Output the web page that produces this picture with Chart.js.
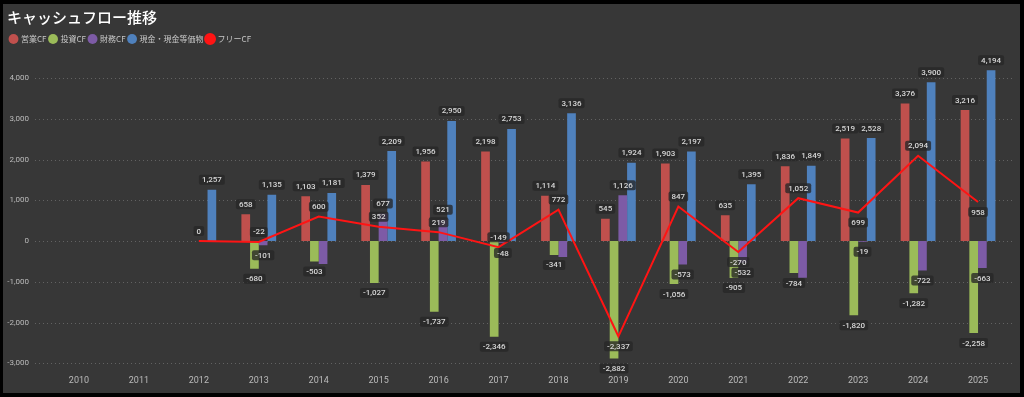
<!DOCTYPE html>
<html>
<head>
<meta charset="utf-8">
<script src="https://cdn.jsdelivr.net/npm/chart.js@4.4.0/dist/chart.umd.min.js"></script>
<style>
  html, body { margin: 0; padding: 0; background: #000; }
  #wrap { width: 1024px; height: 397px; }
</style>
</head>
<body>
<div id="wrap"><canvas id="cf-chart" width="1024" height="397"></canvas></div>
<script>
const years = ['2010', '2011', '2012', '2013', '2014', '2015', '2016', '2017', '2018', '2019', '2020', '2021', '2022', '2023', '2024', '2025'];
const operatingCF = [null, null, null, 658, 1103, 1379, 1956, 2198, 1114, 545, 1903, 635, 1836, 2519, 3376, 3216];
const investingCF = [null, null, null, -680, -503, -1027, -1737, -2346, -341, -2882, -1056, -905, -784, -1820, -1282, -2258];
const financingCF = [null, null, null, -101, -564, 677, 521, -48, -390, 1126, -573, -532, -900, -19, -722, -663];
const cashBalance = [null, null, 1257, 1135, 1181, 2209, 2950, 2753, 3136, 1924, 2197, 1395, 1849, 2528, 3900, 4194];
const freeCF = [null, null, 0, -22, 600, 352, 219, -149, 772, -2337, 847, -270, 1052, 699, 2094, 958];
const yTicks = [-3000, -2000, -1000, 0, 1000, 2000, 3000, 4000];

const fmt = (v) => v.toLocaleString('en-US');

// 黒い枠とグレーのパネル
const panelBg = {
  id: 'panelBg',
  beforeDraw(chart) {
    const ctx = chart.ctx;
    ctx.save();
    ctx.fillStyle = '#000';
    ctx.fillRect(0, 0, chart.width, chart.height);
    ctx.fillStyle = '#373737';
    ctx.fillRect(3, 4, 1017, 389);
    ctx.restore();
  }
};

// 点線のグリッド（プロット領域より少し広く）
const dottedGrid = {
  id: 'dottedGrid',
  beforeDatasetsDraw(chart) {
    const ctx = chart.ctx;
    const y = chart.scales.y;
    ctx.save();
    ctx.strokeStyle = 'rgba(255,255,255,0.22)';
    ctx.lineWidth = 1;
    ctx.setLineDash([1, 3]);
    yTicks.forEach(t => {
      const py = Math.round(y.getPixelForValue(t)) + 0.5;
      ctx.beginPath();
      ctx.moveTo(35, py);
      ctx.lineTo(1015, py);
      ctx.stroke();
    });
    ctx.restore();
  }
};

// データラベル（重なったら出さない）
const valueLabels = {
  id: 'valueLabels',
  afterDatasetsDraw(chart) {
    const ctx = chart.ctx;
    const placed = [];
    const boxH = 10;
    ctx.save();
    ctx.font = '500 8px Roboto';
    ctx.textAlign = 'center';
    ctx.textBaseline = 'middle';

    const makeBox = (text, cx, cy) => {
      const w = ctx.measureText(text).width + 6;
      return { text, x1: cx - w / 2, x2: cx + w / 2, y1: cy - boxH / 2, y2: cy + boxH / 2, cx, cy };
    };
    const collides = (b) => placed.some(p => {
      const ox = Math.min(b.x2, p.x2) - Math.max(b.x1, p.x1);
      const oy = Math.min(b.y2, p.y2) - Math.max(b.y1, p.y1);
      return ox > 5 && oy > 3;
    });
    const drawBox = (b) => {
      ctx.fillStyle = 'rgba(38,38,38,0.78)';
      ctx.beginPath();
      ctx.roundRect(b.x1, b.y1, b.x2 - b.x1, b.y2 - b.y1, 2);
      ctx.fill();
      ctx.fillStyle = '#d8d8d8';
      ctx.fillText(b.text, b.cx, b.cy + 0.5);
    };

    // 棒グラフのラベル
    [0, 1, 2, 3].forEach(di => {
      const meta = chart.getDatasetMeta(di);
      const values = chart.data.datasets[di].data;
      meta.data.forEach((bar, i) => {
        const v = values[i];
        if (v === null) return;
        const cy = v >= 0 ? bar.y - 10 : bar.y + 10;
        const b = makeBox(fmt(v), bar.x, cy);
        if (collides(b)) return;
        placed.push(b);
        drawBox(b);
      });
    });

    // フリーCFのラベル
    const lineMeta = chart.getDatasetMeta(4);
    lineMeta.data.forEach((pt, i) => {
      const v = freeCF[i];
      if (v === null) return;
      const prev = freeCF[i - 1];
      const next = freeCF[i + 1];
      const isMin = prev !== null && prev !== undefined && prev > v && (next === undefined || next === null || next > v);
      const order = isMin ? [10, -10, 0] : [-10, 0, 10];
      let chosen = null;
      for (const off of order) {
        const b = makeBox(fmt(v), pt.x, pt.y + off);
        if (!collides(b)) { chosen = b; break; }
      }
      if (!chosen) chosen = makeBox(fmt(v), pt.x, pt.y + order[0]);
      placed.push(chosen);
      drawBox(chosen);
    });
    ctx.restore();
  }
};

new Chart(document.getElementById('cf-chart'), {
  data: {
    labels: years,
    datasets: [
      { type: 'bar', label: '営業CF', data: operatingCF, backgroundColor: '#c0504d', order: 2 },
      { type: 'bar', label: '投資CF', data: investingCF, backgroundColor: '#9bbb59', order: 2 },
      { type: 'bar', label: '財務CF', data: financingCF, backgroundColor: '#7d5ba6', order: 2 },
      { type: 'bar', label: '現金・現金等価物', data: cashBalance, backgroundColor: '#4f81bd', order: 2 },
      {
        type: 'line', label: 'フリーCF', data: freeCF,
        borderColor: '#ff1414', backgroundColor: '#ff1414',
        borderWidth: 2, pointRadius: 0, tension: 0, order: 1,
        pointStyle: 'circle'
      }
    ]
  },
  options: {
    responsive: false,
    animation: false,
    categoryPercentage: 0.58,
    barPercentage: 1.0,
    layout: { padding: { top: 8, left: 7, right: 16, bottom: 4 } },
    plugins: {
      tooltip: { enabled: false },
      title: {
        display: true,
        text: 'キャッシュフロー推移',
        align: 'start',
        color: '#ffffff',
        font: { family: '"Noto Sans CJK JP"', size: 15, weight: '500' },
        padding: { top: 0, bottom: 6 }
      },
      legend: {
        display: true,
        position: 'top',
        align: 'start',
        labels: {
          usePointStyle: true,
          pointStyle: 'circle',
          boxWidth: 7,
          boxHeight: 7,
          padding: 3,
          color: '#c8c8c8',
          font: { family: '"Noto Sans CJK JP"', size: 8 },
          sort: (a, b) => a.datasetIndex - b.datasetIndex
        }
      }
    },
    scales: {
      x: {
        grid: { display: false, drawTicks: false },
        border: { display: false },
        afterFit: (axis) => { axis.height = 21.5; },
        ticks: { color: '#bbbbbb', font: { family: 'Roboto', size: 9 }, padding: 4 }
      },
      y: {
        min: -3201,
        max: 4616,
        grid: { display: false, drawTicks: false },
        border: { display: false },
        afterFit: (axis) => { axis.width = 42; },
        afterBuildTicks: (axis) => { axis.ticks = yTicks.map(v => ({ value: v })); },
        ticks: {
          color: '#bbbbbb',
          font: { family: 'Roboto', size: 8 },
          padding: 20,
          callback: (v) => fmt(v)
        }
      }
    }
  },
  plugins: [panelBg, dottedGrid, valueLabels]
});
</script>
</body>
</html>
